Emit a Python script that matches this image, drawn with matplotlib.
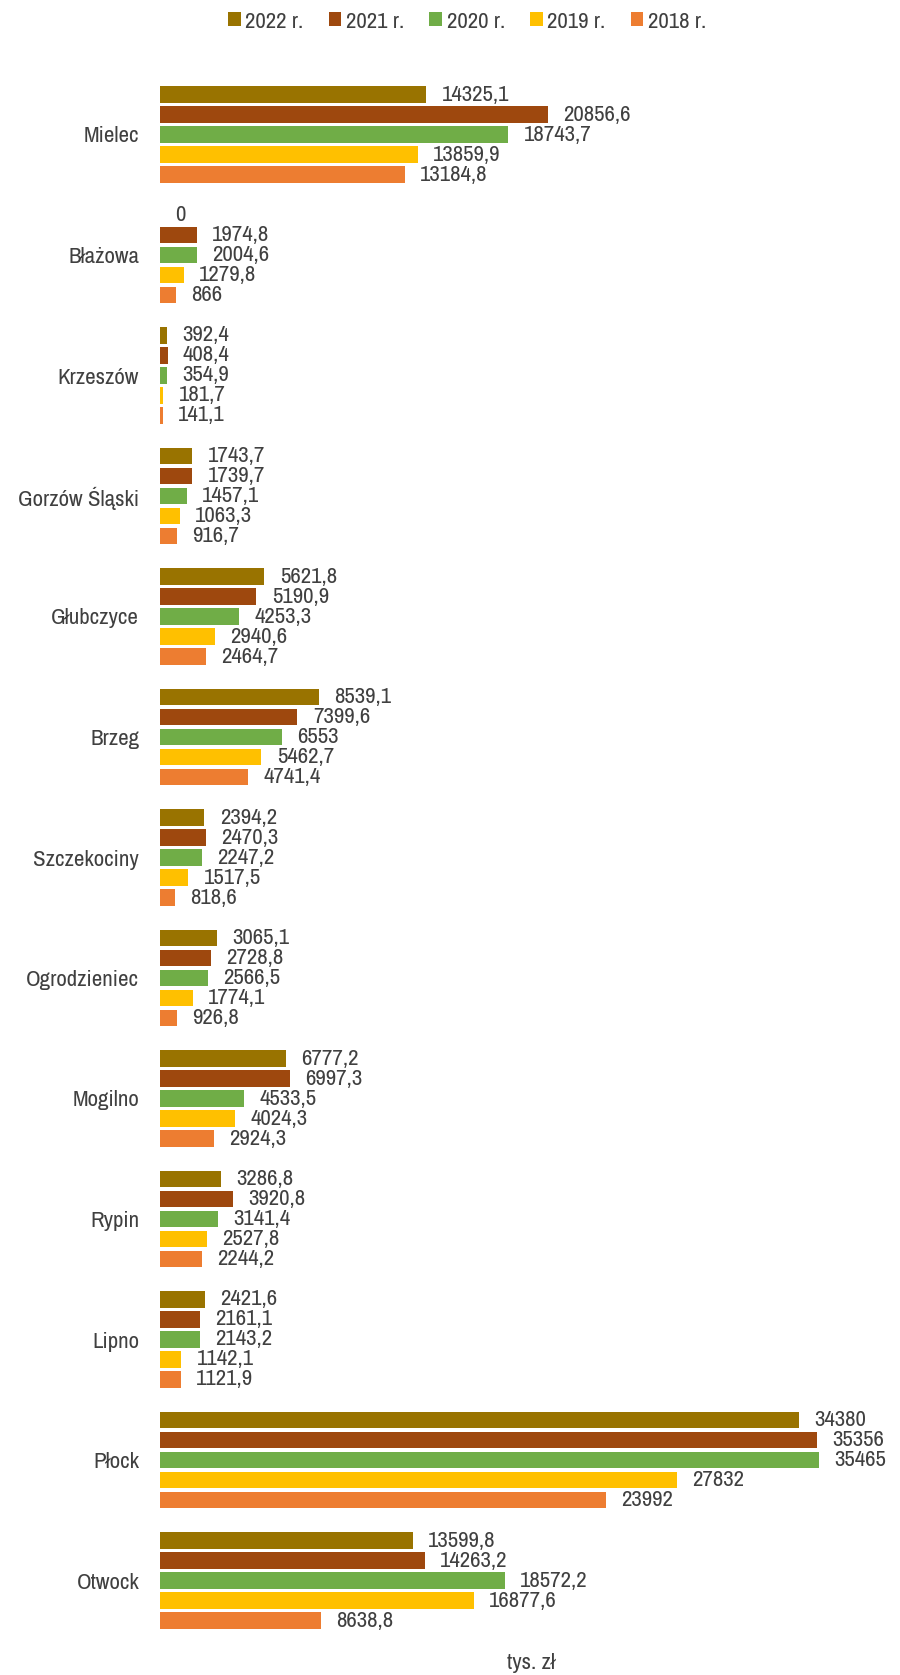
import matplotlib
matplotlib.use("Agg")
import matplotlib.pyplot as plt
import numpy as np

categories = ["Mielec", "Błażowa", "Krzeszów", "Gorzów Śląski", "Głubczyce", "Brzeg",
              "Szczekociny", "Ogrodzieniec", "Mogilno", "Rypin", "Lipno", "Płock", "Otwock"]
series_names = ["2022 r.", "2021 r.", "2020 r.", "2019 r.", "2018 r."]
v2022 = [14325.1, 0, 392.4, 1743.7, 5621.8, 8539.1, 2394.2, 3065.1, 6777.2, 3286.8, 2421.6, 34380, 13599.8]
v2021 = [20856.6, 1974.8, 408.4, 1739.7, 5190.9, 7399.6, 2470.3, 2728.8, 6997.3, 3920.8, 2161.1, 35356, 14263.2]
v2020 = [18743.7, 2004.6, 354.9, 1457.1, 4253.3, 6553, 2247.2, 2566.5, 4533.5, 3141.4, 2143.2, 35465, 18572.2]
v2019 = [13859.9, 1279.8, 181.7, 1063.3, 2940.6, 5462.7, 1517.5, 1774.1, 4024.3, 2527.8, 1142.1, 27832, 16877.6]
v2018 = [13184.8, 866, 141.1, 916.7, 2464.7, 4741.4, 818.6, 926.8, 2924.3, 2244.2, 1121.9, 23992, 8638.8]
colors = ["#997300", "#9E480E", "#70AD47", "#FFC000", "#ED7D31"]
x_label = "tys. zł"

plt.rcParams['font.family'] = ['Archivo Narrow', 'Liberation Sans', 'DejaVu Sans']
TXT = "#404040"
FS = 16.5

W, H = 900, 1675
fig = plt.figure(figsize=(W / 100, H / 100), dpi=100)
px_per_unit = 0.01858
left_px = 160
xmax = 38000
ax_w = xmax * px_per_unit / W
spacing = 6.025
ncat = len(categories)
top_px = 134.5 - spacing * 10
bot_px = 134.5 + (ncat - 1) * spacing * 20 + spacing * 10
ax = fig.add_axes([left_px / W, 1 - bot_px / H, ax_w, (bot_px - top_px) / H])

all_series = [v2022, v2021, v2020, v2019, v2018]
centers = np.arange(ncat) * spacing
offsets = [-2, -1, 0, 1, 2]


def fmt(v):
    s = f"{v:.1f}"
    if s.endswith(".0"):
        s = s[:-2]
    return s.replace(".", ",")


for vals, name, col, off in zip(all_series, series_names, colors, offsets):
    bars = ax.barh(centers + off, vals, height=0.82, color=col, label=name, linewidth=0)
    for b, v in zip(bars, vals):
        ax.annotate(fmt(v), xy=(v, b.get_y() + b.get_height() / 2), xytext=(11, 0),
                    textcoords="offset points", va="center", ha="left",
                    fontsize=FS, color=TXT)

ax.set_xlim(0, xmax)
ax.set_ylim(centers[-1] + spacing / 2, centers[0] - spacing / 2)
ax.set_yticks(centers)
ax.set_yticklabels(categories, fontsize=FS, color=TXT)
ax.tick_params(axis="y", length=0, pad=15)
ax.set_xticks([])
for s in ax.spines.values():
    s.set_visible(False)

fig.legend(loc="center", bbox_to_anchor=(0.519, 1 - 21.5 / H), ncol=5, frameon=False,
           fontsize=FS, labelcolor=TXT, handlelength=0.55, handleheight=0.55,
           handletextpad=0.2, columnspacing=1.1, borderaxespad=0)
fig.text(531 / W, 1 - 1663 / H, x_label, ha="center", va="center", fontsize=FS, color=TXT)

fig.savefig("out.png", dpi=100)
